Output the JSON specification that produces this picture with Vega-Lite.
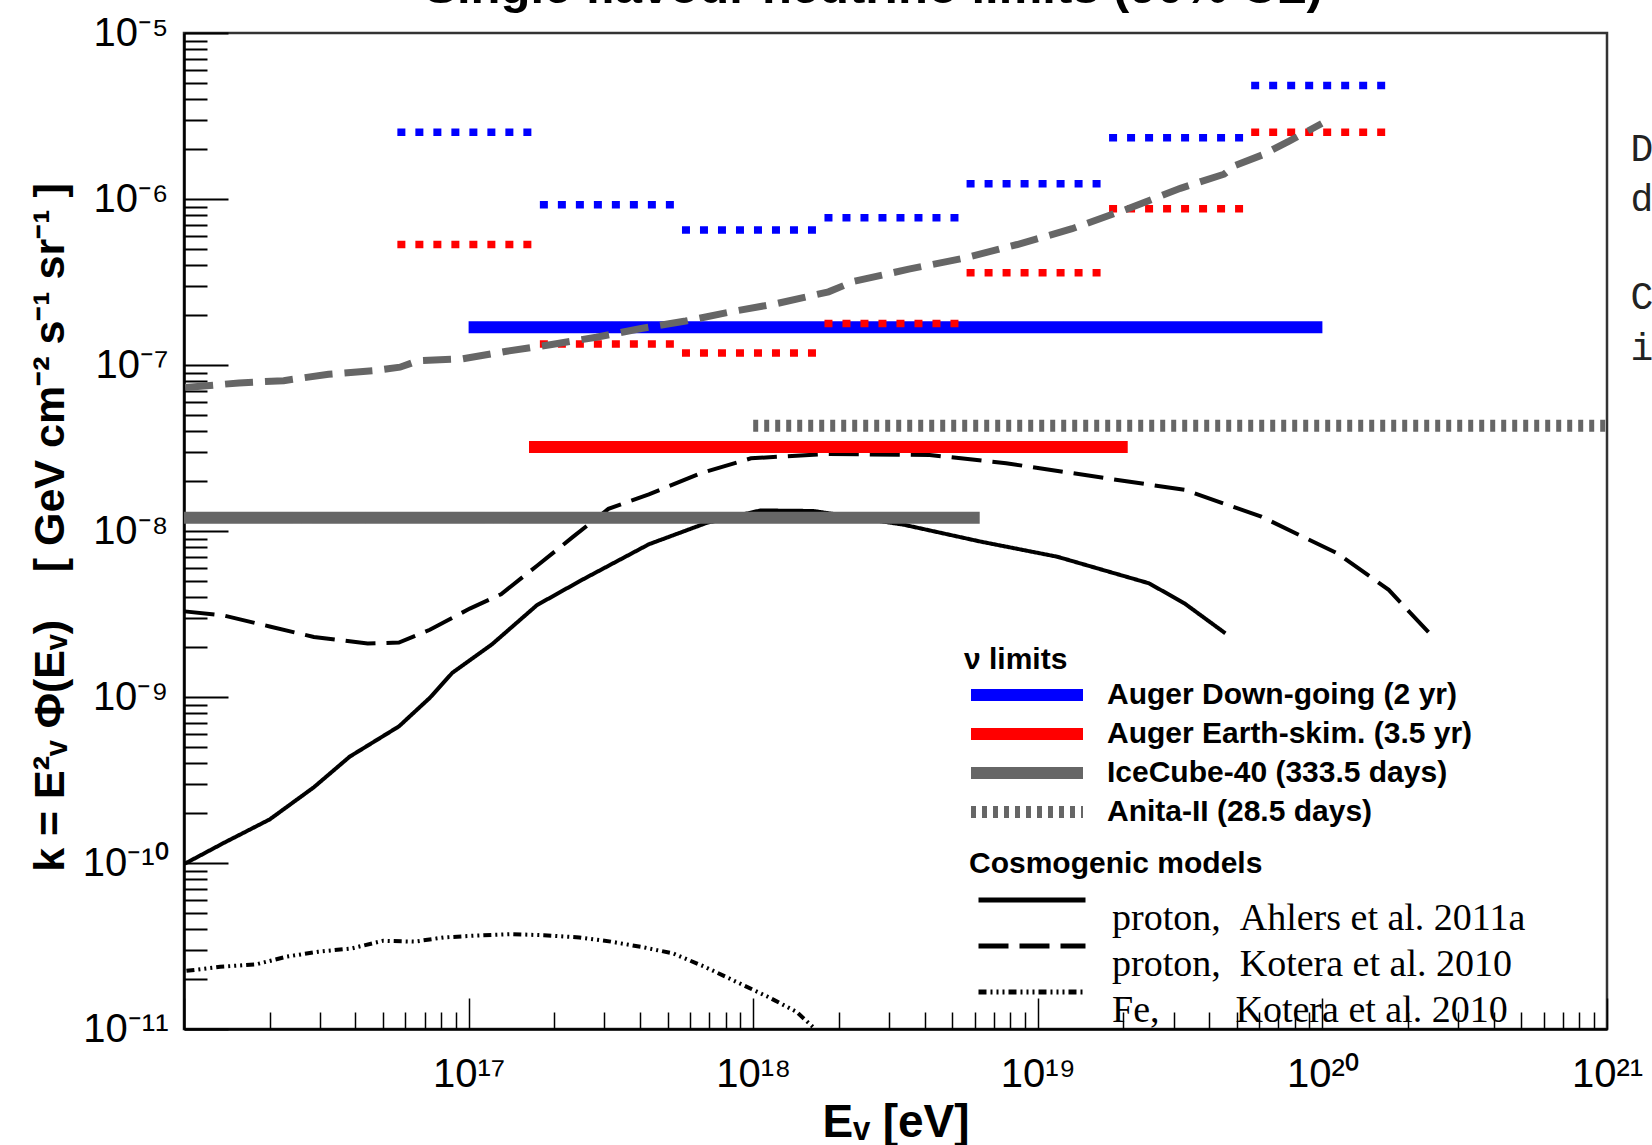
{
  "$schema": "https://vega.github.io/schema/vega-lite/v6.json",
  "width": 1423,
  "height": 996,
  "autosize": {"type": "none"},
  "padding": {"left": 184, "top": 33, "right": 45, "bottom": 116},
  "background": "white",
  "title": {
    "text": "Single flavour neutrino limits (90% CL)",
    "font": "Liberation Sans",
    "fontSize": 49,
    "fontWeight": "bold",
    "color": "black",
    "anchor": "middle",
    "baseline": "alphabetic",
    "offset": 5,
    "dx": -22,
    "dy": 44
  },
  "config": {
    "font": "Liberation Sans",
    "view": {"stroke": "#333333", "strokeWidth": 2.5},
    "axis": {"grid": false}
  },
  "datasets": {
    "bars": [
      {"limit": "Auger Down-going (2 yr)", "e": 1e17, "e2": 1e20, "k": 1.69e-7},
      {"limit": "Auger Earth-skim. (3.5 yr)", "e": 1.63e17, "e2": 2.07e19, "k": 3.21e-8},
      {"limit": "IceCube-40 (333.5 days)", "e": 1e16, "e2": 6.25e18, "k": 1.2e-8},
      {"limit": "Anita-II (28.5 days)", "e": 1e18, "e2": 1e21, "k": 4.31e-8}
    ],
    "diff": [
      {"det": "DG", "e": 5.62e16, "e2": 1.78e17, "k": 2.52e-6},
      {"det": "DG", "e": 1.78e17, "e2": 5.62e17, "k": 9.23e-7},
      {"det": "DG", "e": 5.62e17, "e2": 1.78e18, "k": 6.5e-7},
      {"det": "DG", "e": 1.78e18, "e2": 5.62e18, "k": 7.71e-7},
      {"det": "DG", "e": 5.62e18, "e2": 1.78e19, "k": 1.236e-6},
      {"det": "DG", "e": 1.78e19, "e2": 5.62e19, "k": 2.34e-6},
      {"det": "DG", "e": 5.62e19, "e2": 1.78e20, "k": 4.82e-6},
      {"det": "ES", "e": 5.62e16, "e2": 1.78e17, "k": 5.32e-7},
      {"det": "ES", "e": 1.78e17, "e2": 5.62e17, "k": 1.34e-7},
      {"det": "ES", "e": 5.62e17, "e2": 1.78e18, "k": 1.18e-7},
      {"det": "ES", "e": 1.78e18, "e2": 5.62e18, "k": 1.78e-7},
      {"det": "ES", "e": 5.62e18, "e2": 1.78e19, "k": 3.59e-7},
      {"det": "ES", "e": 1.78e19, "e2": 5.62e19, "k": 8.75e-7},
      {"det": "ES", "e": 5.62e19, "e2": 1.78e20, "k": 2.52e-6}
    ],
    "models": [
      {"model": "Ahlers", "e": 1.005e16, "k": 9.89e-11},
      {"model": "Ahlers", "e": 1.39e16, "k": 1.33e-10},
      {"model": "Ahlers", "e": 2.0e16, "k": 1.83e-10},
      {"model": "Ahlers", "e": 2.86e16, "k": 2.86e-10},
      {"model": "Ahlers", "e": 3.82e16, "k": 4.37e-10},
      {"model": "Ahlers", "e": 5.69e16, "k": 6.65e-10},
      {"model": "Ahlers", "e": 7.31e16, "k": 9.89e-10},
      {"model": "Ahlers", "e": 8.77e16, "k": 1.4e-9},
      {"model": "Ahlers", "e": 1.21e17, "k": 2.08e-9},
      {"model": "Ahlers", "e": 1.74e17, "k": 3.58e-9},
      {"model": "Ahlers", "e": 2.5e17, "k": 5.07e-9},
      {"model": "Ahlers", "e": 4.3e17, "k": 8.32e-9},
      {"model": "Ahlers", "e": 6.87e17, "k": 1.12e-8},
      {"model": "Ahlers", "e": 1.06e18, "k": 1.33e-8},
      {"model": "Ahlers", "e": 1.63e18, "k": 1.32e-8},
      {"model": "Ahlers", "e": 3.39e18, "k": 1.09e-8},
      {"model": "Ahlers", "e": 6.3e18, "k": 8.63e-9},
      {"model": "Ahlers", "e": 1.17e19, "k": 7.0e-9},
      {"model": "Ahlers", "e": 2.46e19, "k": 4.84e-9},
      {"model": "Ahlers", "e": 3.28e19, "k": 3.66e-9},
      {"model": "Ahlers", "e": 4.56e19, "k": 2.42e-9},
      {"model": "KoteraP", "e": 1.005e16, "k": 3.28e-9},
      {"model": "KoteraP", "e": 1.39e16, "k": 3.09e-9},
      {"model": "KoteraP", "e": 2.0e16, "k": 2.66e-9},
      {"model": "KoteraP", "e": 2.86e16, "k": 2.3e-9},
      {"model": "KoteraP", "e": 4.42e16, "k": 2.1e-9},
      {"model": "KoteraP", "e": 5.69e16, "k": 2.13e-9},
      {"model": "KoteraP", "e": 7.31e16, "k": 2.54e-9},
      {"model": "KoteraP", "e": 1.01e17, "k": 3.41e-9},
      {"model": "KoteraP", "e": 1.3e17, "k": 4.16e-9},
      {"model": "KoteraP", "e": 1.74e17, "k": 6.18e-9},
      {"model": "KoteraP", "e": 2.32e17, "k": 9.18e-9},
      {"model": "KoteraP", "e": 3.1e17, "k": 1.36e-8},
      {"model": "KoteraP", "e": 4.3e17, "k": 1.66e-8},
      {"model": "KoteraP", "e": 6.5e17, "k": 2.22e-8},
      {"model": "KoteraP", "e": 9.82e17, "k": 2.74e-8},
      {"model": "KoteraP", "e": 1.82e18, "k": 2.91e-8},
      {"model": "KoteraP", "e": 4.17e18, "k": 2.87e-8},
      {"model": "KoteraP", "e": 7.74e18, "k": 2.56e-8},
      {"model": "KoteraP", "e": 1.77e19, "k": 2.07e-8},
      {"model": "KoteraP", "e": 3.28e19, "k": 1.77e-8},
      {"model": "KoteraP", "e": 6.1e19, "k": 1.22e-8},
      {"model": "KoteraP", "e": 1.13e20, "k": 7.33e-9},
      {"model": "KoteraP", "e": 1.71e20, "k": 4.42e-9},
      {"model": "KoteraP", "e": 2.38e20, "k": 2.42e-9},
      {"model": "KoteraFe", "e": 1.02e16, "k": 2.24e-11},
      {"model": "KoteraFe", "e": 1.34e16, "k": 2.37e-11},
      {"model": "KoteraFe", "e": 1.79e16, "k": 2.45e-11},
      {"model": "KoteraFe", "e": 2.3e16, "k": 2.73e-11},
      {"model": "KoteraFe", "e": 2.96e16, "k": 2.92e-11},
      {"model": "KoteraFe", "e": 3.89e16, "k": 3.06e-11},
      {"model": "KoteraFe", "e": 5.01e16, "k": 3.4e-11},
      {"model": "KoteraFe", "e": 6.46e16, "k": 3.36e-11},
      {"model": "KoteraFe", "e": 8.17e16, "k": 3.56e-11},
      {"model": "KoteraFe", "e": 1.05e17, "k": 3.65e-11},
      {"model": "KoteraFe", "e": 1.4e17, "k": 3.73e-11},
      {"model": "KoteraFe", "e": 1.84e17, "k": 3.67e-11},
      {"model": "KoteraFe", "e": 2.45e17, "k": 3.56e-11},
      {"model": "KoteraFe", "e": 3.16e17, "k": 3.36e-11},
      {"model": "KoteraFe", "e": 4.14e17, "k": 3.1e-11},
      {"model": "KoteraFe", "e": 5.24e17, "k": 2.85e-11},
      {"model": "KoteraFe", "e": 6.75e17, "k": 2.37e-11},
      {"model": "KoteraFe", "e": 8.69e17, "k": 1.93e-11},
      {"model": "KoteraFe", "e": 1.12e18, "k": 1.57e-11},
      {"model": "KoteraFe", "e": 1.42e18, "k": 1.27e-11},
      {"model": "KoteraFe", "e": 1.62e18, "k": 1.03e-11}
    ],
    "grey": [
      {"e": 1.01e16, "k": 7.31e-8},
      {"e": 1.56e16, "k": 7.8e-8},
      {"e": 2.24e16, "k": 8.05e-8},
      {"e": 3.22e16, "k": 8.79e-8},
      {"e": 4.62e16, "k": 9.23e-8},
      {"e": 5.74e16, "k": 9.7e-8},
      {"e": 6.64e16, "k": 1.06e-7},
      {"e": 9.53e16, "k": 1.09e-7},
      {"e": 1.36e17, "k": 1.21e-7},
      {"e": 1.96e17, "k": 1.33e-7},
      {"e": 2.81e17, "k": 1.47e-7},
      {"e": 4.04e17, "k": 1.66e-7},
      {"e": 5.79e17, "k": 1.84e-7},
      {"e": 8.32e17, "k": 2.09e-7},
      {"e": 1.19e18, "k": 2.33e-7},
      {"e": 1.84e18, "k": 2.76e-7},
      {"e": 2.26e18, "k": 3.19e-7},
      {"e": 3.52e18, "k": 3.78e-7},
      {"e": 5.46e18, "k": 4.39e-7},
      {"e": 8.47e18, "k": 5.32e-7},
      {"e": 1.32e19, "k": 6.62e-7},
      {"e": 2.04e19, "k": 8.65e-7},
      {"e": 3.17e19, "k": 1.16e-6},
      {"e": 4.51e19, "k": 1.41e-6},
      {"e": 4.92e19, "k": 1.59e-6},
      {"e": 6.14e19, "k": 1.84e-6},
      {"e": 7.64e19, "k": 2.23e-6},
      {"e": 9.95e19, "k": 2.85e-6}
    ],
    "fragments": [
      {"ch": "D", "e": 1.21e21, "k": 1.97e-6},
      {"ch": "d", "e": 1.21e21, "k": 9.86e-7},
      {"ch": "C", "e": 1.21e21, "k": 2.54e-7},
      {"ch": "i", "e": 1.21e21, "k": 1.25e-7}
    ]
  },
  "encoding": {
    "x": {
      "field": "e", "type": "quantitative",
      "scale": {"type": "log", "domain": [1e16, 1e21], "nice": false},
      "axis": {
        "values": [1e16,2e16,3e16,4e16,5e16,6e16,7e16,8e16,9e16,1e17,2e17,3e17,4e17,5e17,6e17,7e17,8e17,9e17,1e18,2e18,3e18,4e18,5e18,6e18,7e18,8e18,9e18,1e19,2e19,3e19,4e19,5e19,6e19,7e19,8e19,9e19,1e20,2e20,3e20,4e20,5e20,6e20,7e20,8e20,9e20,1e21],
        "labelExpr": "abs(log(datum.value)/LN10 - round(log(datum.value)/LN10)) > 0.01 ? '' : round(log(datum.value)/LN10) == 17 ? '10\u00b9\u2077' : round(log(datum.value)/LN10) == 18 ? '10\u00b9\u2078' : round(log(datum.value)/LN10) == 19 ? '10\u00b9\u2079' : round(log(datum.value)/LN10) == 20 ? '10\u00b2\u2070' : round(log(datum.value)/LN10) == 21 ? '10\u00b2\u00b9' : ''",
        "tickSize": {"condition": {"test": "abs(log(datum.value)/LN10 - round(log(datum.value)/LN10)) < 0.01", "value": -31}, "value": -17},
        "tickColor": "black",
        "tickWidth": 1.5,
        "domainColor": "black",
        "domainWidth": 2.5,
        "labelPadding": 56,
        "labelFont": "Liberation Sans",
        "labelFontSize": 40,
        "labelColor": "black",
        "labelFlush": false,
        "labelOverlap": false,
        "labelBound": false,
        "title": "E\u1d65 [eV]",
        "titleFont": "Liberation Sans",
        "titleFontSize": 46,
        "titleFontWeight": "bold",
        "titleColor": "black",
        "titleBaseline": "alphabetic",
        "titleY": 107
      }
    },
    "y": {
      "field": "k", "type": "quantitative",
      "scale": {"type": "log", "domain": [1e-11, 1e-5], "nice": false},
      "axis": {
        "values": [1e-11,2e-11,3e-11,4e-11,5e-11,6e-11,7e-11,8e-11,9e-11,1e-10,2e-10,3e-10,4e-10,5e-10,6e-10,7e-10,8e-10,9e-10,1e-9,2e-9,3e-9,4e-9,5e-9,6e-9,7e-9,8e-9,9e-9,1e-8,2e-8,3e-8,4e-8,5e-8,6e-8,7e-8,8e-8,9e-8,1e-7,2e-7,3e-7,4e-7,5e-7,6e-7,7e-7,8e-7,9e-7,1e-6,2e-6,3e-6,4e-6,5e-6,6e-6,7e-6,8e-6,9e-6,1e-5],
        "labelExpr": "abs(log(datum.value)/LN10 - round(log(datum.value)/LN10)) > 0.01 ? '' : round(log(datum.value)/LN10) == -5 ? '10\u207b\u2075' : round(log(datum.value)/LN10) == -6 ? '10\u207b\u2076' : round(log(datum.value)/LN10) == -7 ? '10\u207b\u2077' : round(log(datum.value)/LN10) == -8 ? '10\u207b\u2078' : round(log(datum.value)/LN10) == -9 ? '10\u207b\u2079' : round(log(datum.value)/LN10) == -10 ? '10\u207b\u00b9\u2070' : round(log(datum.value)/LN10) == -11 ? '10\u207b\u00b9\u00b9' : ''",
        "tickSize": {"condition": {"test": "abs(log(datum.value)/LN10 - round(log(datum.value)/LN10)) < 0.01", "value": -44}, "value": -23},
        "tickColor": "black",
        "tickWidth": 2,
        "domainColor": "black",
        "domainWidth": 2.5,
        "labelPadding": 60,
        "labelFont": "Liberation Sans",
        "labelFontSize": 40,
        "labelColor": "black",
        "labelOverlap": false,
        "labelBound": false,
        "labelFlush": false,
        "title": "k = E\u00b2\u1d65 \u03a6(E\u1d65)\u00a0\u00a0\u00a0\u00a0[ GeV cm\u207b\u00b2 s\u207b\u00b9 sr\u207b\u00b9 ]",
        "titleFont": "Liberation Sans",
        "titleFontSize": 43,
        "titleFontWeight": "bold",
        "titleColor": "black",
        "titleAngle": 270,
        "titleBaseline": "alphabetic",
        "titleAlign": "center",
        "titleX": -121,
        "titleY": 494
      }
    }
  },
  "resolve": {"scale": {"color": "independent", "strokeDash": "independent"}},
  "layer": [
    {
      "data": {"name": "models"},
      "mark": {"type": "line", "color": "black", "strokeWidth": 4},
      "encoding": {
        "strokeDash": {
          "field": "model", "type": "nominal",
          "scale": {"domain": ["Ahlers", "KoteraP", "KoteraFe"], "range": [[1, 0], [30, 11], [8, 4, 2, 4, 2, 4, 2, 4]]},
          "legend": {
            "title": "Cosmogenic models",
            "orient": "none",
            "legendX": 785,
            "legendY": 816,
            "padding": 0,
            "symbolType": "stroke",
            "symbolSize": 11449,
            "symbolStrokeWidth": 5,
            "symbolStrokeColor": "black",
            "symbolOffset": 7,
            "labelOffset": 24,
            "labelFont": "Liberation Serif",
            "labelFontSize": 38,
            "labelFontWeight": "normal",
            "labelColor": "black",
            "labelBaseline": "top",
            "labelLimit": 800,
            "clipHeight": 16,
            "labelExpr": "datum.label == 'Ahlers' ? 'proton,\u00a0\u00a0Ahlers et al. 2011a' : datum.label == 'KoteraP' ? 'proton,\u00a0\u00a0Kotera et al. 2010' : 'Fe,\u00a0\u00a0\u00a0\u00a0\u00a0\u00a0\u00a0\u00a0Kotera et al. 2010'",
            "titleFont": "Liberation Sans",
            "titleFontSize": 30,
            "titleFontWeight": "bold",
            "titleColor": "black",
            "titleLimit": 800,
            "titlePadding": 13,
            "rowPadding": 0
          }
        }
      }
    },
    {
      "data": {"name": "bars"},
      "mark": {"type": "rule", "strokeWidth": 12, "strokeCap": "butt"},
      "encoding": {
        "x2": {"field": "e2"},
        "color": {
          "field": "limit", "type": "nominal",
          "scale": {"domain": ["Auger Down-going (2 yr)", "Auger Earth-skim. (3.5 yr)", "IceCube-40 (333.5 days)", "Anita-II (28.5 days)"], "range": ["#0000ff", "#ff0000", "#666666", "#666666"]},
          "legend": {
            "title": "\u03bd limits",
            "orient": "none",
            "legendX": 780,
            "legendY": 612,
            "padding": 0,
            "symbolType": "stroke",
            "symbolSize": 12544,
            "symbolStrokeWidth": 12,
            "symbolOffset": 1,
            "labelOffset": 18,
            "labelFont": "Liberation Sans",
            "labelFontSize": 30,
            "labelFontWeight": "bold",
            "labelColor": "black",
            "labelLimit": 800,
            "clipHeight": 30,
            "titleFont": "Liberation Sans",
            "titleFontSize": 30,
            "titleFontWeight": "bold",
            "titleColor": "black",
            "titleLimit": 800,
            "titlePadding": 5,
            "rowPadding": 9
          }
        },
        "strokeDash": {
          "field": "limit", "type": "nominal",
          "scale": {"domain": ["Auger Down-going (2 yr)", "Auger Earth-skim. (3.5 yr)", "IceCube-40 (333.5 days)", "Anita-II (28.5 days)"], "range": [[1, 0], [1, 0], [1, 0], [5, 6]]},
          "legend": {
            "title": "\u03bd limits",
            "orient": "none",
            "legendX": 780,
            "legendY": 612,
            "padding": 0,
            "symbolType": "stroke",
            "symbolSize": 12544,
            "symbolStrokeWidth": 12,
            "symbolOffset": 1,
            "labelOffset": 18,
            "labelFont": "Liberation Sans",
            "labelFontSize": 30,
            "labelFontWeight": "bold",
            "labelColor": "black",
            "labelLimit": 800,
            "clipHeight": 30,
            "titleFont": "Liberation Sans",
            "titleFontSize": 30,
            "titleFontWeight": "bold",
            "titleColor": "black",
            "titleLimit": 800,
            "titlePadding": 5,
            "rowPadding": 9
          }
        }
      }
    },
    {
      "data": {"name": "diff"},
      "mark": {"type": "rule", "strokeWidth": 7.5, "strokeDash": [8, 10], "strokeCap": "butt"},
      "encoding": {
        "x2": {"field": "e2"},
        "color": {"field": "det", "type": "nominal", "scale": {"domain": ["DG", "ES"], "range": ["#0000ff", "#ff0000"]}, "legend": null}
      }
    },
    {
      "data": {"name": "grey"},
      "mark": {"type": "line", "color": "#666666", "strokeWidth": 7, "strokeDash": [28, 12]},
      "encoding": {}
    },
    {
      "data": {"name": "fragments"},
      "mark": {"type": "text", "font": "Liberation Mono", "fontSize": 38, "color": "#222222", "align": "left", "baseline": "middle", "clip": false},
      "encoding": {
        "text": {"field": "ch", "type": "nominal"}
      }
    }
  ]
}
